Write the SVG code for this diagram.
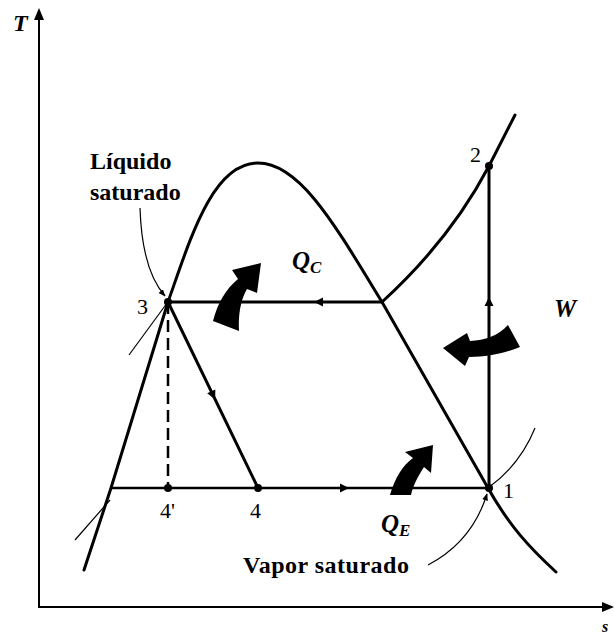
<svg xmlns="http://www.w3.org/2000/svg" width="614" height="635" viewBox="0 0 614 635">
<style>
.thick{fill:none;stroke:#000;stroke-width:3;stroke-linejoin:round;stroke-linecap:round}
.med{fill:none;stroke:#000;stroke-width:2.5}
.axis{fill:none;stroke:#000;stroke-width:2}
.thin{fill:none;stroke:#000;stroke-width:1.2}
.blk{fill:#000;stroke:none}
.lbl{font-family:"Liberation Serif","Times New Roman",serif;fill:#000}
.bold{font-weight:bold}
.num{font-size:22px}
.q{font-family:"Liberation Serif","Times New Roman",serif;font-weight:bold;font-style:italic;fill:#000}
</style>
<defs>
<path id="ah" d="M5,0 L-4,-4.5 L-4,4.5 Z"/>
<path id="axh" d="M7,0 L-5,-5 L-5,5 Z"/>
<marker id="pt" viewBox="0 0 10 10" refX="9" refY="5" markerWidth="6" markerHeight="6" orient="auto"><path d="M0,1 L10,5 L0,9 Z" fill="#000"/></marker>
</defs>
<rect width="614" height="635" fill="#fff"/>

<g id="axes">
<line class="axis" x1="39" y1="18" x2="39" y2="607"/>
<line class="axis" x1="38" y1="607" x2="606" y2="607"/>
<use href="#axh" class="blk" transform="translate(39,15) rotate(-90)"/>
<use href="#axh" class="blk" transform="translate(607,607)"/>
<text class="lbl bold" x="13" y="31" font-size="24" font-style="italic">T</text>
<text class="lbl bold" x="602" y="632" font-size="16" font-style="italic">s</text>
</g>

<g id="dome">
<path class="thick" d="M84,570 L111,488 L168,302 C190,240 212,163 258,163 C300,163 335,225 382,302 C420,368 455,430 488,488 C510,527 530,548 556,572"/>
</g>

<g id="isobar">
<path class="thick" d="M382,302 Q450,240 489,166 L515,115"/>
</g>

<g id="connectors">
<line class="thick" x1="489" y1="166" x2="489" y2="488"/>
<line class="thick" x1="382" y1="302" x2="168" y2="302"/>
<line class="thick" x1="168" y1="302" x2="258" y2="488"/>
<line class="med" x1="111" y1="488" x2="489" y2="488"/>
<line class="med" x1="168" y1="302" x2="168" y2="488" stroke-dasharray="12 6"/>
<use href="#ah" class="blk" transform="translate(344,488)"/>
<use href="#ah" class="blk" transform="translate(319,302) rotate(180)"/>
<use href="#ah" class="blk" transform="translate(489,302) rotate(-90)"/>
<use href="#ah" class="blk" transform="translate(213,395) rotate(64.2)"/>
<line class="thin" x1="129" y1="355" x2="170" y2="299"/>
<line class="thin" x1="75" y1="540" x2="110" y2="500"/>
<path class="thin" d="M488,488 Q520,465 535,428"/>
<path class="thin" d="M140,208 Q142,270 165,296" marker-end="url(#pt)"/>
<path class="thin" d="M428,565 Q472,542 487,494" marker-end="url(#pt)"/>
</g>

<g id="point-3"><circle class="blk" cx="168" cy="302" r="4"/><text class="lbl num" x="137" y="314">3</text></g>
<g id="point-2"><circle class="blk" cx="489" cy="166" r="4"/><text class="lbl num" x="470" y="162">2</text></g>
<g id="point-1"><circle class="blk" cx="489" cy="488" r="4"/><text class="lbl num" x="503" y="498">1</text></g>
<g id="point-4p"><circle class="blk" cx="168" cy="488" r="4"/><text class="lbl num" x="160" y="518">4'</text></g>
<g id="point-4"><circle class="blk" cx="258" cy="488" r="4"/><text class="lbl num" x="250" y="518">4</text></g>

<g id="label-liquido">
<text class="lbl bold" x="90" y="169" font-size="24">Líquido</text>
<text class="lbl bold" x="90" y="200" font-size="24">saturado</text>
</g>
<g id="label-vapor">
<text class="lbl bold" x="243" y="573" font-size="24" letter-spacing="0.5">Vapor saturado</text>
</g>

<g id="heat-QC">
<path class="blk" d="M213,321 C218,302 226,289 238,279 L232,270 L261,263 L257,293 L247,289 C241,299 238,314 239,331 Z"/>
<text class="q" x="292" y="269" font-size="25">Q<tspan font-size="17" dy="4">C</tspan></text>
</g>
<g id="heat-QE">
<path class="blk" d="M390,495 C395,478 402,466 413,458 L405,452 L433,445 L431,473 L424,467 C418,476 413,486 411,495 Z"/>
<text class="q" x="381" y="532" font-size="25">Q<tspan font-size="17" dy="4">E</tspan></text>
</g>
<g id="work-W">
<path class="blk" d="M443,348 L467,333 L470,341 C485,340 498,336 508,325 L520,347 C505,353 488,357 469,357 L465,366 Z"/>
<text class="q" x="554" y="317" font-size="25">W</text>
</g>
</svg>
